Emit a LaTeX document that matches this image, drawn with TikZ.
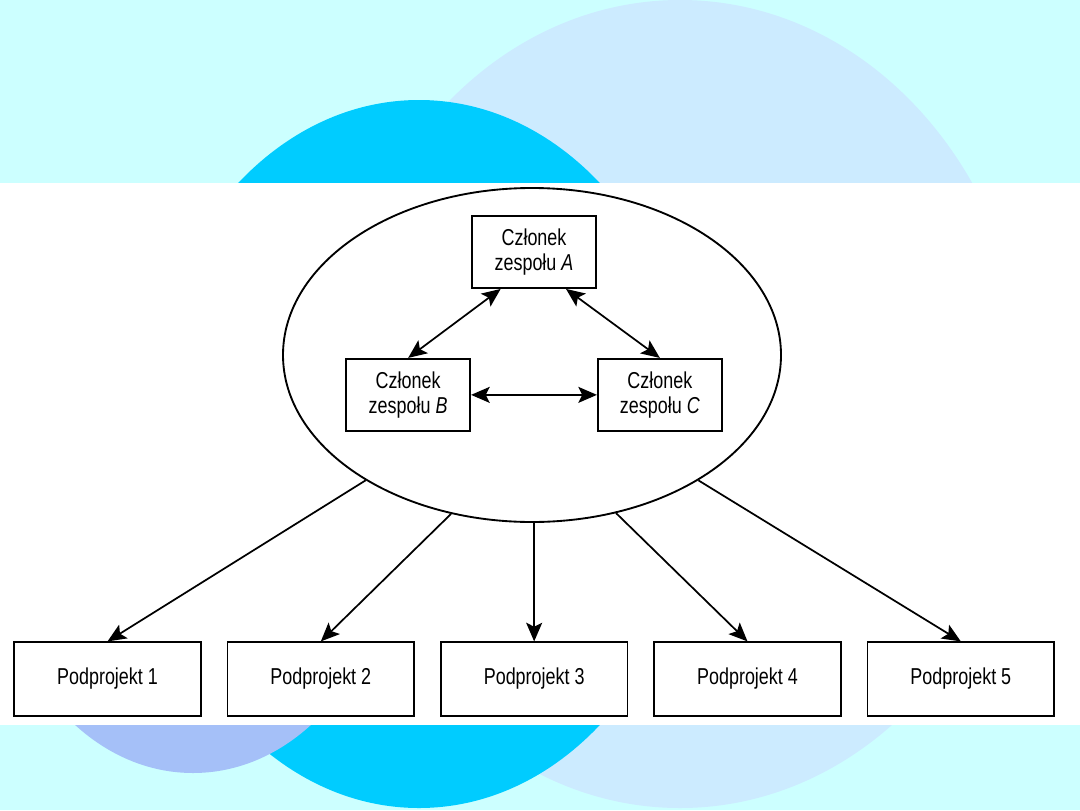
\documentclass[tikz,border=0pt]{standalone}
\usepackage{fontspec}
\setmainfont{Liberation Sans}[FakeStretch=0.78]
\usepackage{tikz}
\usetikzlibrary{arrows.meta, positioning, shapes.geometric}
\definecolor{bgcyan}{HTML}{CCFFFF}
\definecolor{skypale}{HTML}{CCEBFF}
\definecolor{skybright}{HTML}{00CCFF}
\definecolor{lavblue}{HTML}{A5C0F8}

\begin{document}
\begin{tikzpicture}[
    x=0.75pt, y=-0.75pt,
    >={Stealth[length=14pt, width=12pt, inset=3pt]},
    member/.style={draw, line width=1.4pt, fill=white, minimum width=93pt, minimum height=54pt,
        align=center, inner sep=2pt, font=\fontsize{17.25}{18.75}\selectfont},
    subproj/.style={draw, line width=1.4pt, fill=white, minimum width=140pt, minimum height=55pt,
        inner sep=2pt, font=\fontsize{17.25}{18.75}\selectfont},
    link/.style={line width=1.3pt},
]
    \useasboundingbox (0,0) rectangle (1080,810);

    % Background
    \fill[bgcyan] (0,0) rectangle (1080,810);
    \fill[skypale] (680,404) ellipse [x radius=349, y radius=404];
    \fill[skybright] (419,454) ellipse [x radius=281, y radius=354];
    \fill[lavblue] (193,523) ellipse [x radius=200, y radius=250];
    \fill[white] (0,183) rectangle (1080,725);

    % Team
    \node[draw, ellipse, line width=1.4pt, minimum width=373.5pt, minimum height=250.5pt, inner sep=0pt]
        (team) at (532,355) {};
    \node[member] (memA) at (534,252) {Członek\\zespołu \textit{A}};
    \node[member, below left=51.75pt and 0pt of memA] (memB) {Członek\\zespołu \textit{B}};
    \node[member, below right=51.75pt and 0pt of memA] (memC) {Członek\\zespołu \textit{C}};

    % Subprojects
    \node[subproj] (sub1) at (107.5,679) {Podprojekt 1};
    \node[subproj, right=18.6pt of sub1] (sub2) {Podprojekt 2};
    \node[subproj, right=18.6pt of sub2] (sub3) {Podprojekt 3};
    \node[subproj, right=18.6pt of sub3] (sub4) {Podprojekt 4};
    \node[subproj, right=18.6pt of sub4] (sub5) {Podprojekt 5};

    % Links
    \draw[link, <->] ([xshift=-25pt]memA.south) -- (memB.north);
    \draw[link, <->] ([xshift=24pt]memA.south) -- (memC.north);
    \draw[link, <->] (memB) -- (memC);
    \draw[link, ->] (team.217) -- (sub1.north);
    \draw[link, ->] (team.243) -- (sub2.north);
    \draw[link, ->] (team.south -| sub3.north) -- (sub3.north);
    \draw[link, ->] (team.298) -- (sub4.north);
    \draw[link, ->] (team.323) -- (sub5.north);
\end{tikzpicture}
\end{document}
